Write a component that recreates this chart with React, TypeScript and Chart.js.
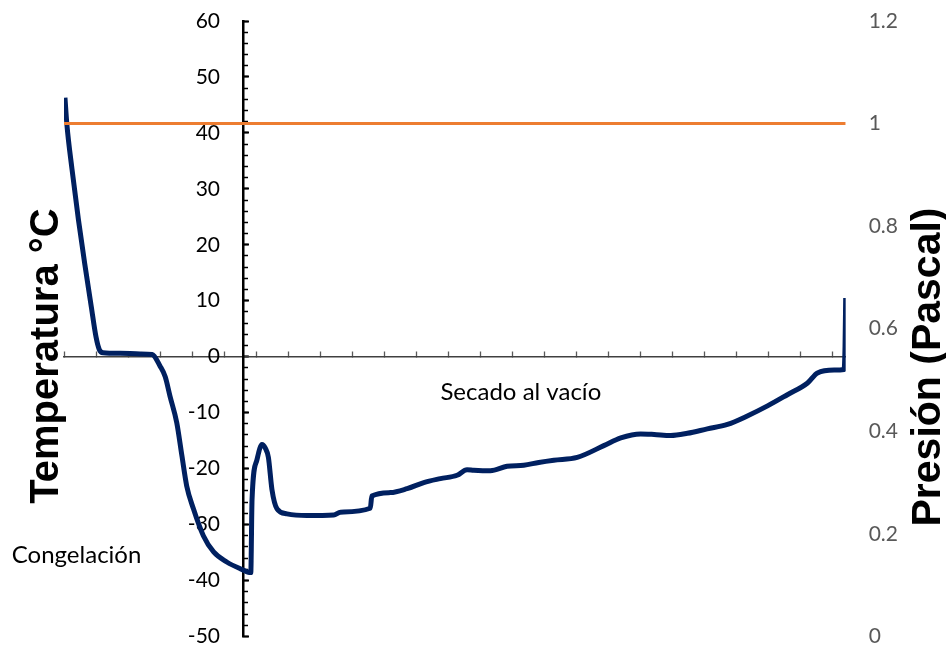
import { useEffect, useRef } from 'react';
import { Chart, registerables } from 'chart.js';

Chart.register(...registerables);

// Time axis in tick units (one unit per x-axis tick mark)
const tiempo = [
  0.03, 0.09, 0.25, 0.45, 0.65, 0.85, 1.0, 1.1, 1.22, 1.75, 2.38, 2.75,
  3.0, 3.16, 3.31, 3.52, 3.68, 3.83, 4.04, 4.35, 4.67, 5.08, 5.5, 5.83,
  5.87, 6.02, 6.18, 6.28, 6.38, 6.49, 6.65, 6.96, 7.58, 8.42, 8.63, 9.56,
  9.61, 10.19, 10.71, 11.23, 11.75, 12.27, 12.58, 12.79, 13.31, 13.83, 14.35, 14.82,
  15.29, 16.02, 16.85, 17.38, 18.0, 18.42, 18.94, 19.46, 20.08, 20.71, 21.33, 21.96,
  22.58, 23.21, 23.52, 24.04, 24.35, 24.38, 24.4,
];
const temperatura = [
  46.3, 41.5, 33.5, 24.5, 16.5, 9.0, 3.5, 1.3, 0.7, 0.6, 0.5, 0.4,
  -1.7, -3.6, -7.1, -11.8, -17.7, -23.1, -27.2, -32.0, -34.9, -36.7, -37.9, -38.6,
  -25.5, -18.5, -15.7, -16.3, -18.0, -23.7, -27.2, -28.1, -28.4, -28.3, -27.8, -27.1,
  -24.9, -24.3, -23.6, -22.5, -21.8, -21.2, -20.2, -20.3, -20.4, -19.6, -19.4, -18.9,
  -18.5, -18.0, -15.9, -14.5, -13.8, -13.9, -14.1, -13.7, -12.9, -12.1, -10.6, -8.8,
  -6.8, -4.7, -2.9, -2.4, -2.3, 2.0, 10.5,
];
const presionTiempo = [0, 24.4];
const presion = [1, 1];

const xMin = 0;
const xMax = 24.4;
const ejeCruce = 5.594; // x value where the temperature axis crosses
const ejeEtiquetas = 4.87; // x value where the temperature tick labels end
const tempMin = -50;
const tempMax = 60;
const presMin = 0;
const presMax = 1.2;

const tituloTemp = 'Temperatura °C';
const tituloPres = 'Presión (Pascal)';
const etiquetaCongelacion = 'Congelación';
const etiquetaSecado = 'Secado al vacío';

export default function App() {
  const ref = useRef<HTMLCanvasElement | null>(null);

  useEffect(() => {
    if (!ref.current) return;

    const textPlugin = {
      id: 'textos',
      afterDraw(chart: any) {
        const ctx = chart.ctx;
        const xs = chart.scales.x;
        const ys = chart.scales.yT;
        ctx.save();
        ctx.fillStyle = '#000';
        ctx.textBaseline = 'middle';
        ctx.textAlign = 'left';
        ctx.font = '24px Lato';
        ctx.fillText(etiquetaCongelacion, xs.getPixelForValue(-1.63), ys.getPixelForValue(-35.5));
        ctx.fillText(etiquetaSecado, xs.getPixelForValue(11.75), ys.getPixelForValue(-6.3));

        ctx.textAlign = 'center';
        ctx.save();
        ctx.font = 'bold 40px "Liberation Sans"';
        ctx.translate(47, 356);
        ctx.rotate(-Math.PI / 2);
        ctx.fillText(tituloTemp, 0, 0);
        ctx.restore();
        ctx.save();
        ctx.font = 'bold 41px "Liberation Sans"';
        ctx.translate(929, 367);
        ctx.rotate(-Math.PI / 2);
        ctx.fillText(tituloPres, 0, 0);
        ctx.restore();
        ctx.restore();
      },
    };

    const chart = new Chart(ref.current, {
      type: 'line',
      data: {
        datasets: [
          {
            label: 'Presión',
            data: presionTiempo.map((x, i) => ({ x, y: presion[i] })),
            yAxisID: 'yP',
            borderColor: '#ED7D31',
            borderWidth: 3,
            pointRadius: 0,
            order: 0,
          },
          {
            label: 'Temperatura',
            data: tiempo.map((x, i) => ({ x, y: temperatura[i] })),
            yAxisID: 'yT',
            borderColor: '#002060',
            borderWidth: 5,
            pointRadius: 0,
            cubicInterpolationMode: 'monotone',
            order: 1,
          },
        ],
      },
      options: {
        responsive: false,
        animation: false,
        layout: { padding: { left: 64, top: 21, bottom: 14, right: 45 } },
        plugins: { legend: { display: false }, tooltip: { enabled: false } },
        scales: {
          x: {
            type: 'linear',
            min: xMin,
            max: xMax,
            position: { yT: 0 } as any,
            ticks: { display: false, stepSize: 1, includeBounds: false } as any,
            grid: {
              drawOnChartArea: false,
              drawTicks: true,
              tickLength: -6,
              tickColor: '#595959',
              tickWidth: 1.3,
            },
            border: { display: true, color: '#404040', width: 1.5 },
          },
          yT: {
            type: 'linear',
            min: tempMin,
            max: tempMax,
            position: { x: ejeCruce } as any,
            ticks: { stepSize: 10, display: false },
            grid: {
              drawOnChartArea: false,
              drawTicks: true,
              tickLength: -7,
              tickColor: '#000',
              tickWidth: 2,
            },
            border: { display: true, color: '#000', width: 2.5 },
          },
          yTmenor: {
            type: 'linear',
            min: tempMin,
            max: tempMax,
            position: { x: ejeCruce } as any,
            ticks: { stepSize: 2, display: false },
            grid: {
              drawOnChartArea: false,
              drawTicks: true,
              tickLength: -5,
              tickColor: '#000',
              tickWidth: 1.5,
            },
            border: { display: false },
          },
          yTetiquetas: {
            type: 'linear',
            min: tempMin,
            max: tempMax,
            position: { x: ejeEtiquetas } as any,
            ticks: {
              stepSize: 10,
              padding: 0,
              color: '#000',
              font: { family: 'Lato', size: 21 },
            },
            grid: { display: false, drawTicks: false },
            border: { display: false },
          },
          yP: {
            type: 'linear',
            position: 'right',
            min: presMin,
            max: presMax,
            ticks: {
              stepSize: 0.2,
              padding: 3,
              color: '#595959',
              font: { family: 'Lato', size: 21 },
              callback: (v: any) => String(Number(Number(v).toFixed(1))),
            },
            grid: { display: false, drawTicks: true, tickLength: 20 },
            border: { display: false },
          },
        },
      },
      plugins: [textPlugin],
    });
    return () => chart.destroy();
  }, []);

  return (
    <div style={{ position: 'absolute', left: 0, top: 0, width: 946, height: 652, background: '#fff' }}>
      <canvas ref={ref} width={946} height={652} style={{ display: 'block' }} />
    </div>
  );
}
